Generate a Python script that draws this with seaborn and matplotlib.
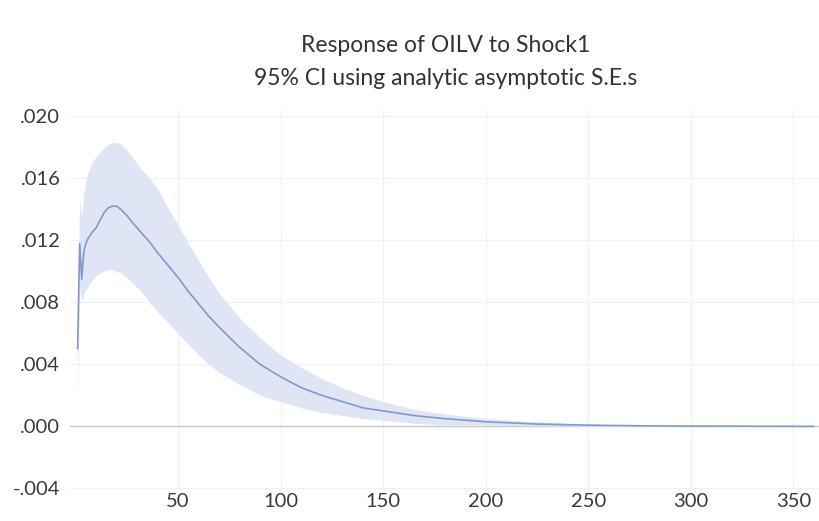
import numpy as np
import pandas as pd
import matplotlib
matplotlib.use("Agg")
import matplotlib.pyplot as plt
from matplotlib.ticker import FuncFormatter
import seaborn as sns

# impulse response (period, response, 95% band)
periods = [1, 2, 3, 4, 5, 6, 8, 10, 12, 14, 16, 18, 20, 22, 25, 28, 32, 36, 40,
           45, 50, 55, 60, 65, 70, 80, 90, 100, 110, 120, 130, 140, 150, 165,
           180, 200, 225, 250, 275, 300, 330, 360]
response = [0.0050, 0.0118, 0.0095, 0.0112, 0.0118, 0.0121, 0.0125, 0.0128,
            0.0133, 0.0138, 0.0141, 0.0142, 0.0142, 0.0140, 0.0136, 0.0131,
            0.0125, 0.0119, 0.0112, 0.0104, 0.0096, 0.0087, 0.0079, 0.0071,
            0.0064, 0.0051, 0.0040, 0.0032, 0.0025, 0.0020, 0.0016, 0.0012,
            0.0010, 0.0007, 0.0005, 0.0003, 0.00015, 0.00008, 0.00004,
            0.00002, 0.00001, 0.0]
lower = [0.0020, 0.0090, 0.0080, 0.0085, 0.0088, 0.0090, 0.0094, 0.0097,
         0.0099, 0.0100, 0.0101, 0.0101, 0.0100, 0.0099, 0.0096, 0.0092,
         0.0087, 0.0080, 0.0074, 0.0067, 0.0060, 0.0053, 0.0046, 0.0040,
         0.0035, 0.0027, 0.0020, 0.0016, 0.0012, 0.0009, 0.0007, 0.0005,
         0.0004, 0.0002, 0.0001, 0.0001, 0.00003, 0.00001, 0.0, 0.0, 0.0, 0.0]
upper = [0.0080, 0.0146, 0.0135, 0.0150, 0.0158, 0.0163, 0.0170, 0.0174,
         0.0177, 0.0180, 0.0182, 0.0183, 0.0183, 0.0182, 0.0178, 0.0173,
         0.0166, 0.0160, 0.0153, 0.0141, 0.0130, 0.0118, 0.0107, 0.0096,
         0.0086, 0.0070, 0.0057, 0.0046, 0.0038, 0.0031, 0.0025, 0.0020,
         0.0016, 0.0011, 0.0008, 0.0005, 0.0003, 0.00015, 0.00008, 0.00004,
         0.00002, 0.00001]

y_ticks = [-0.004, 0.000, 0.004, 0.008, 0.012, 0.016, 0.020]
x_ticks = [50, 100, 150, 200, 250, 300, 350]

df = pd.DataFrame({"period": periods, "response": response,
                   "lower": lower, "upper": upper})

sns.set_style("white")
plt.rcParams["font.family"] = ["Lato", "DejaVu Sans"]

fig = plt.figure(figsize=(8.2, 5.21), dpi=100)
ax = fig.add_axes([0.0854, 0.0595, 0.9146, 0.7294])

# faint grid
for x in x_ticks:
    ax.axvline(x, color="#f0f0f0", lw=0.9, zorder=0)
for y in y_ticks:
    if y != 0:
        ax.axhline(y, color="#f0f0f0", lw=0.9, zorder=0)
ax.axhline(0, color="#c8c8c8", lw=1.0, zorder=1)

ax.fill_between(df["period"], df["lower"], df["upper"],
                color="#dfe5f5", lw=0, zorder=2)
sns.lineplot(data=df, x="period", y="response", ax=ax,
             color="#8299cc", lw=1.2, zorder=3)

ax.set_xlim(-2.7, 363)
ax.set_ylim(-0.0041, 0.0204)
ax.set_xticks(x_ticks)
ax.set_yticks(y_ticks)


def fmt(v, pos):
    s = f"{v:.3f}"
    return s.replace("0.", ".", 1)


ax.yaxis.set_major_formatter(FuncFormatter(fmt))
ax.tick_params(axis="both", length=0, labelsize=14.5, labelcolor="#3a3a3a")
ax.tick_params(axis="y", pad=7)
ax.tick_params(axis="x", pad=2)
ax.set_xlabel("")
ax.set_ylabel("")
for s in ax.spines.values():
    s.set_visible(False)

fig.text(0.543, 0.913, "Response of OILV to Shock1", ha="center", va="center",
         fontsize=16.5, color="#333333")
fig.text(0.543, 0.850, "95% CI using analytic asymptotic S.E.s", ha="center",
         va="center", fontsize=16.5, color="#333333")

fig.savefig("out.png", dpi=100)
